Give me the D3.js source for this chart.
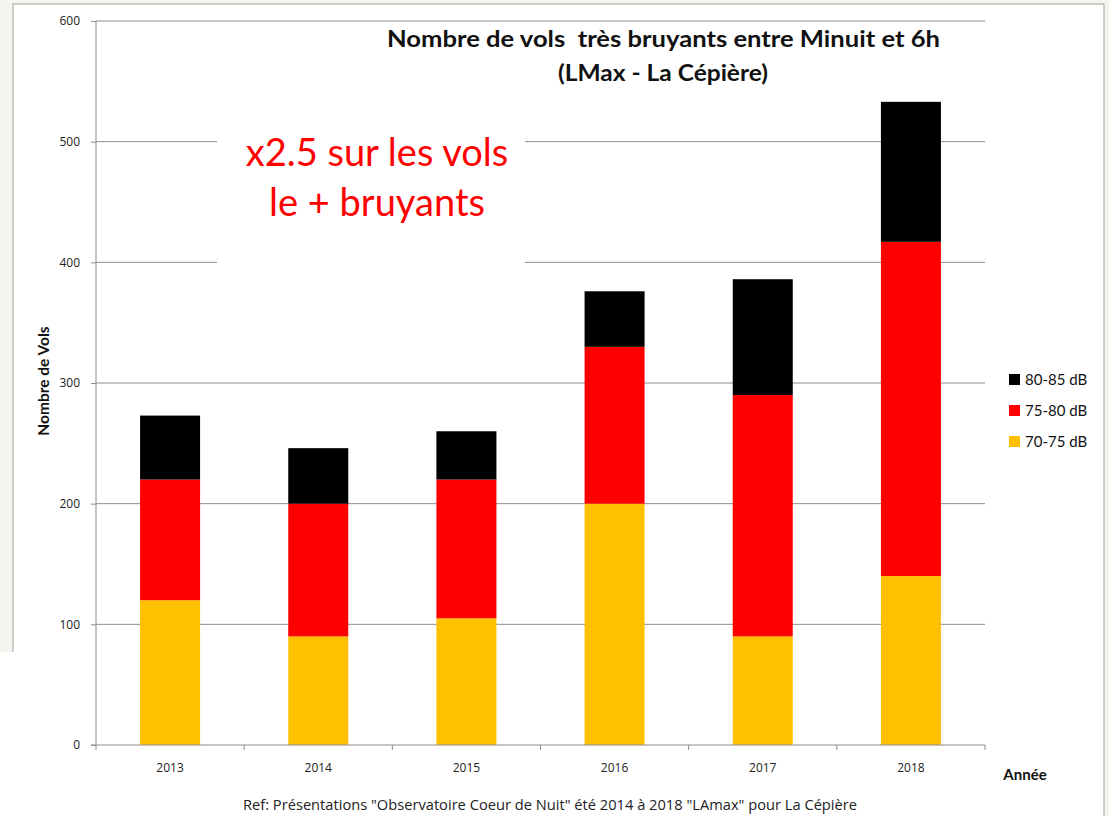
<!DOCTYPE html>
<html>
<head>
<meta charset="utf-8">
<script src="https://cdn.jsdelivr.net/npm/d3@7"></script>
<style>
  body { margin: 0; background: #f4f5ee; }
  svg { display: block; font-family: Lato, "Open Sans", sans-serif; }
</style>
</head>
<body>
<svg class="svg1" width="1109" height="816"></svg>
<script>
var years = ["2013", "2014", "2015", "2016", "2017", "2018"];
var seriesKeys = ["db70_75", "db75_80", "db80_85"];
var seriesNames = ["70-75 dB", "75-80 dB", "80-85 dB"];
var seriesColors = ["#ffc000", "#ff0000", "#000000"];
var vals70_75 = [120, 90, 105, 200, 90, 140];
var vals75_80 = [100, 110, 115, 130, 200, 277];
var vals80_85 = [53, 46, 40, 46, 96, 116];
var yTicks = [0, 100, 200, 300, 400, 500, 600];

var tableData = years.map(function(y, i) {
    return { year: y, db70_75: vals70_75[i], db75_80: vals75_80[i], db80_85: vals80_85[i] };
});

var svg1 = d3.select(".svg1");

// sheet frame
svg1.append("rect").attr("x", 13).attr("y", 4).attr("width", 1091).attr("height", 820)
    .attr("fill", "white").attr("stroke", "#a0a0a0");
svg1.append("rect").attr("x", 0).attr("y", 652).attr("width", 14).attr("height", 164)
    .attr("fill", "white");

var PL = 96, PR = 985, PT = 21, PB = 745;

var scaleX = d3.scaleBand().domain(years).range([PL, PR]).paddingInner(0).paddingOuter(0);
var scaleY = d3.scaleLinear().domain([0, 600]).range([PB, PT]);
var barW = scaleX.bandwidth() * 0.405;

// grid
svg1.append("g").selectAll("line")
    .data(yTicks.filter(function(d) { return d > 0; }))
    .enter().append("line")
    .attr("x1", PL).attr("x2", PR)
    .attr("y1", function(d) { return scaleY(d); })
    .attr("y2", function(d) { return scaleY(d); })
    .attr("stroke", "#8c8c8c").attr("stroke-width", 1);

// white box behind annotation hides grid
svg1.append("rect").attr("x", 217).attr("y", 125).attr("width", 308).attr("height", 150)
    .attr("fill", "white");

var stacked = d3.stack().keys(seriesKeys)(tableData);

svg1.selectAll(".layer")
    .data(stacked)
    .enter().append("g")
    .attr("class", "layer")
    .attr("fill", function(d, i) { return seriesColors[i]; })
    .selectAll("rect")
    .data(function(d) { return d; })
    .enter().append("rect")
    .attr("x", function(d) { return scaleX(d.data.year) + (scaleX.bandwidth() - barW) / 2; })
    .attr("width", barW)
    .attr("y", function(d) { return scaleY(d[1]); })
    .attr("height", function(d) { return scaleY(d[0]) - scaleY(d[1]); });

// y axis
var yAxis = d3.axisLeft(scaleY).tickValues(yTicks).tickSize(5).tickPadding(11);
var gy = svg1.append("g").attr("transform", "translate(" + PL + ",0)").call(yAxis);
gy.select(".domain").attr("stroke", "#8c8c8c").attr("d", "M0," + PT + "V" + PB);
gy.selectAll(".tick line").attr("stroke", "#8c8c8c");
gy.selectAll("text").style("font-size", "12px").style("font-family", "'Open Sans', sans-serif").attr("fill", "#222");

// x axis
var gx = svg1.append("g").attr("transform", "translate(0," + PB + ")");
gx.append("line").attr("x1", PL - 5).attr("x2", PR).attr("stroke", "#8c8c8c");
gx.selectAll(".xt").data(years.concat(["end"])).enter().append("line")
    .attr("x1", function(d, i) { return PL + i * scaleX.bandwidth(); })
    .attr("x2", function(d, i) { return PL + i * scaleX.bandwidth(); })
    .attr("y1", 0).attr("y2", 5).attr("stroke", "#8c8c8c");
gx.selectAll(".xl").data(years).enter().append("text")
    .attr("x", function(d) { return scaleX(d) + scaleX.bandwidth() / 2; })
    .attr("y", 27).attr("text-anchor", "middle")
    .style("font-size", "12px").style("font-family", "'Liberation Sans Narrow', 'Open Sans', sans-serif")
    .attr("fill", "#222").text(function(d) { return d; });

// titles
svg1.append("text").attr("x", 387).attr("y", 47)
    .attr("textLength", 553).attr("lengthAdjust", "spacingAndGlyphs")
    .style("white-space", "pre")
    .style("font-size", "22px").style("font-weight", "bold").attr("fill", "#111")
    .text("Nombre de vols  très bruyants entre Minuit et 6h");
svg1.append("text").attr("x", 558).attr("y", 81)
    .attr("textLength", 210).attr("lengthAdjust", "spacingAndGlyphs")
    .style("font-size", "22px").style("font-weight", "bold").attr("fill", "#111")
    .text("(LMax - La Cépière)");

svg1.append("text").attr("x", 377).attr("y", 166).attr("text-anchor", "middle")
    .style("font-size", "38px").attr("fill", "#ff0000").text("x2.5 sur les vols");
svg1.append("text").attr("x", 377).attr("y", 216).attr("text-anchor", "middle")
    .style("font-size", "38px").attr("fill", "#ff0000").text("le + bruyants");

svg1.append("text").attr("transform", "translate(49,381) rotate(-90)")
    .attr("text-anchor", "middle").style("font-size", "15.5px").style("font-weight", "bold")
    .attr("fill", "#111").text("Nombre de Vols");

svg1.append("text").attr("x", 1025).attr("y", 780).attr("text-anchor", "middle")
    .style("font-size", "15px").style("font-weight", "bold").attr("fill", "#111").text("Année");

svg1.append("text").attr("x", 243).attr("y", 810)
    .attr("textLength", 614).attr("lengthAdjust", "spacingAndGlyphs")
    .style("font-size", "14px").style("font-family", "'Liberation Sans Narrow', 'Open Sans', sans-serif")
    .attr("fill", "#222")
    .text("Ref: Présentations \"Observatoire Coeur de Nuit\" été 2014 à 2018 \"LAmax\" pour La Cépière");

// legend (top series first)
var legendOrder = [2, 1, 0];
var legend = svg1.selectAll(".leg").data(legendOrder).enter().append("g")
    .attr("transform", function(d, i) { return "translate(1009," + (374 + i * 31) + ")"; });
legend.append("rect").attr("width", 11).attr("height", 11)
    .attr("fill", function(d) { return seriesColors[d]; });
legend.append("text").attr("x", 16).attr("y", 10.5)
    .style("font-size", "15px").attr("fill", "#111")
    .text(function(d) { return seriesNames[d]; });
</script>
</body>
</html>
